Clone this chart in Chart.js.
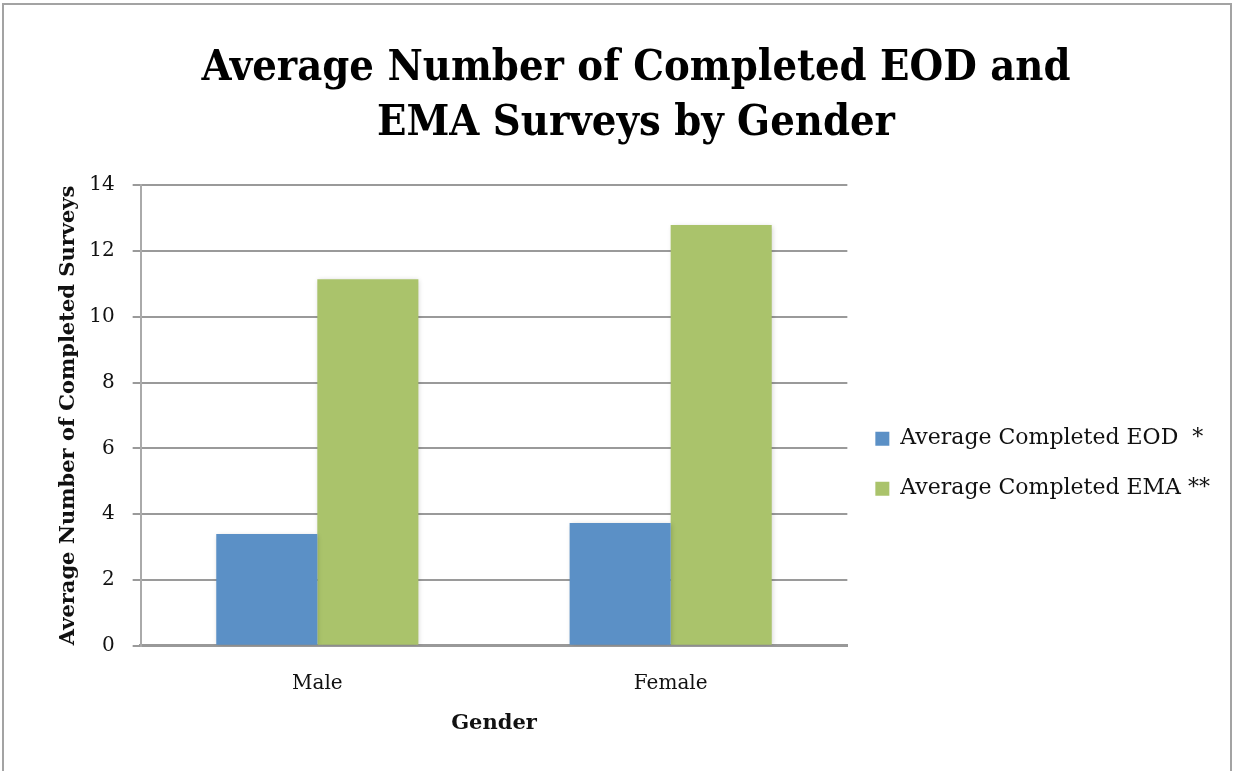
<!DOCTYPE html>
<html lang="en">
<head>
    <meta charset="utf-8">
    <title>Completed EOD and EMA Surveys by Gender</title>
    <script src="https://cdn.jsdelivr.net/npm/chart.js"></script>
    <style>
        body { margin: 0; background: #fff; }
        #frame {
            position: absolute; left: 2px; top: 3px;
            width: 1226px; height: 770px;
            border: 2px solid #a3a3a3; border-bottom: none;
        }
    </style>
</head>
<body>
    <div id="frame">
        <canvas id="surveyChart"></canvas>
    </div>

    <script>
        const genders = ["Male", "Female"];
        const avgEOD = [3.40, 3.73];
        const avgEMA = [11.14, 12.79];
        const yTicks = [0, 2, 4, 6, 8, 10, 12, 14];

        const serif = "'DejaVu Serif', serif";
        const serifNarrow = "'DejaVu Serif Condensed', 'DejaVu Serif', serif";

        // soft drop shadow under the bars
        const barShadow = {
            id: 'barShadow',
            beforeDatasetsDraw(chart) {
                const c = chart.ctx;
                c.save();
                c.shadowColor = 'rgba(0,0,0,0.18)';
                c.shadowBlur = 5;
                c.shadowOffsetX = 1;
                c.shadowOffsetY = 1;
            },
            afterDatasetsDraw(chart) {
                chart.ctx.restore();
            }
        };

        const ctx = document.getElementById("surveyChart").getContext("2d");
        const surveyChart = new Chart(ctx, {
            type: 'bar',
            data: {
                labels: genders,
                datasets: [{
                    label: "Average Completed EOD  *",
                    backgroundColor: "#5b90c6",
                    data: avgEOD,
                }, {
                    label: "Average Completed EMA **",
                    backgroundColor: "#aac36b",
                    data: avgEMA,
                }],
            },
            options: {
                responsive: true,
                maintainAspectRatio: false,
                animation: false,
                layout: { padding: { top: 36, left: 48, right: 10, bottom: 35 } },
                datasets: {
                    bar: { barPercentage: 1.0, categoryPercentage: 0.572 }
                },
                scales: {
                    x: {
                        grid: { display: false, drawTicks: false },
                        border: { color: "#999", width: 3 },
                        ticks: { color: "#111", font: { family: serif, size: 20 }, padding: 26 },
                        title: {
                            display: true, text: "Gender", color: "#111",
                            font: { family: serif, size: 21, weight: 'bold' }, padding: { top: -11 }
                        }
                    },
                    y: {
                        min: 0, max: 14,
                        afterBuildTicks: axis => { axis.ticks = yTicks.map(v => ({ value: v })); },
                        grid: { color: "#9a9a9a", lineWidth: 2, tickLength: 8 },
                        border: { color: "#aaa", width: 2 },
                        ticks: { color: "#111", font: { family: serif, size: 20 }, padding: 18 },
                        title: {
                            display: true, text: "Average Number of Completed Surveys", color: "#111",
                            font: { family: serif, size: 21, weight: 'bold' }, padding: { bottom: -10 }
                        }
                    }
                },
                plugins: {
                    title: {
                        display: true,
                        text: ["Average Number of Completed EOD and", "EMA Surveys by Gender"],
                        color: "#000",
                        font: { family: serifNarrow, size: 43, weight: 'bold', lineHeight: 1.28 },
                        padding: { top: 0, bottom: 34 }
                    },
                    legend: {
                        position: 'right',
                        maxWidth: 420,
                        title: { display: true, text: '', padding: { top: 0, bottom: 132 } },
                        labels: {
                            color: "#111",
                            font: { family: serif, size: 22 },
                            boxWidth: 14, boxHeight: 14, padding: 28
                        }
                    },
                    tooltip: { enabled: false }
                }
            },
            plugins: [barShadow]
        });
    </script>
</body>
</html>
